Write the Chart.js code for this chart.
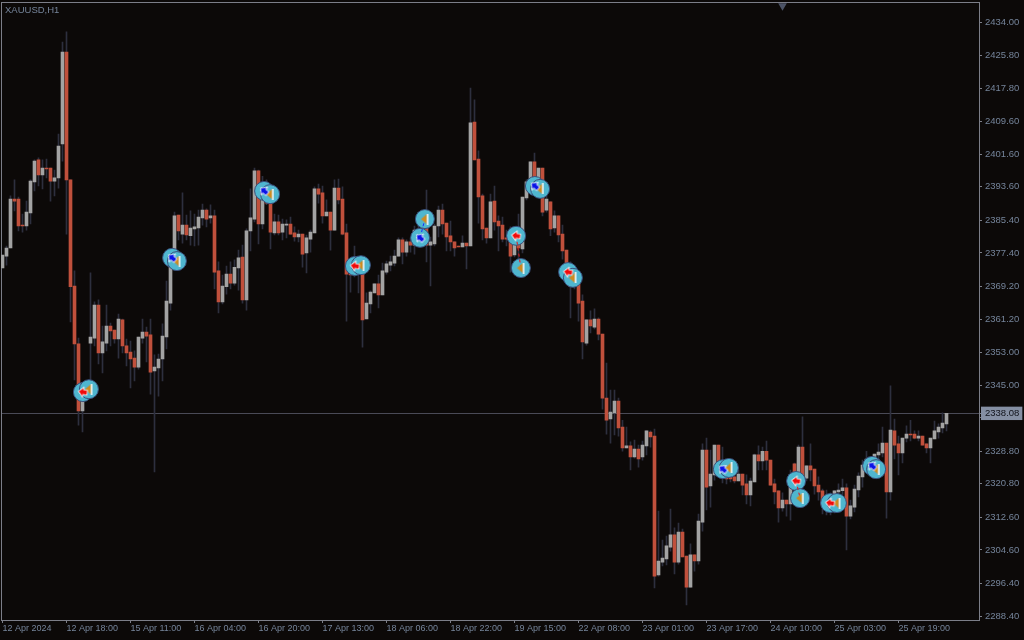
<!DOCTYPE html>
<html>
<head>
<meta charset="utf-8">
<title>XAUUSD,H1</title>
<script src="https://cdn.jsdelivr.net/npm/chart.js@4"></script>
<style>
  html, body { margin: 0; padding: 0; background: #0c0908; }
  canvas { display: block; }
</style>
</head>
<body>
<canvas id="myChart" width="1024" height="640"></canvas>
<script>
// H1 candles, one value per bar
const opens = [
  2373.7,2376.6,2378.6,2390.6,2390.6,2384.2,2384.0,2387.2,2394.8,2400.2,
  2396.5,2398.2,2398.2,2395.0,2395.8,2404.1,2426.6,2395.3,2369.3,2355.1,
  2338.7,2343.3,2355.3,2356.5,2364.6,2352.9,2355.3,2359.5,2358.5,2356.3,
  2361.0,2354.6,2353.1,2351.6,2349.4,2356.5,2358.0,2357.3,2348.5,2349.2,
  2351.4,2356.8,2365.1,2375.2,2386.7,2382.0,2384.2,2381.6,2383.3,2383.5,
  2386.0,2387.9,2386.0,2386.5,2373.0,2365.4,2369.1,2372.2,2370.0,2373.7,
  2376.4,2365.9,2382.8,2385.7,2397.5,2384.5,2391.6,2389.6,2382.3,2385.0,
  2382.5,2384.2,2384.5,2382.3,2381.3,2382.0,2377.4,2380.8,2382.3,2393.1,
  2392.1,2386.5,2387.4,2383.0,2393.3,2390.6,2382.3,2372.2,2372.0,2373.7,
  2372.7,2361.2,2364.9,2367.6,2369.8,2367.1,2372.7,2374.4,2374.9,2376.6,
  2380.6,2377.6,2380.1,2379.3,2383.0,2380.6,2384.2,2379.3,2379.6,2384.0,
  2387.9,2384.7,2381.6,2380.1,2379.1,2378.9,2379.8,2379.1,2409.5,2400.4,
  2391.4,2383.5,2381.1,2390.1,2385.2,2384.2,2381.1,2381.1,2376.9,2380.6,
  2378.4,2390.9,2394.8,2399.7,2393.6,2398.2,2387.9,2389.9,2383.5,2386.5,
  2382.0,2378.1,2372.7,2369.1,2369.8,2365.6,2355.3,2361.0,2359.2,2361.2,
  2357.5,2341.8,2336.7,2338.2,2341.1,2334.7,2329.6,2330.1,2327.4,2329.3,
  2327.4,2330.1,2333.5,2332.5,2298.5,2301.6,2302.4,2305.3,2308.3,2301.6,
  2309.0,2303.1,2295.5,2303.4,2301.9,2311.4,2329.1,2320.3,2323.0,2330.3,
  2326.2,2324.2,2323.0,2322.5,2321.5,2323.2,2320.8,2318.1,2321.3,2327.9,
  2326.4,2328.8,2326.6,2320.8,2319.1,2314.9,2316.8,2315.9,2325.7,2322.5,
  2329.8,2322.2,2325.2,2324.4,2320.5,2319.1,2315.4,2318.1,2315.9,2318.8,
  2319.1,2319.8,2312.9,2315.1,2319.3,2322.5,2324.2,2326.6,2324.9,2327.9,
  2328.4,2330.8,2318.8,2333.8,2330.6,2328.4,2332.0,2333.0,2333.0,2332.0,
  2332.5,2330.6,2329.6,2331.8,2333.5,2334.5,2335.5
];
const highs = [
  2376.9,2379.1,2391.4,2395.3,2391.1,2386.9,2390.1,2395.3,2400.2,2400.7,
  2400.2,2400.4,2398.2,2397.7,2406.5,2429.1,2431.6,2395.3,2373.0,2356.5,
  2345.3,2345.3,2372.5,2365.4,2365.9,2359.5,2364.6,2360.2,2358.5,2362.4,
  2361.2,2356.3,2355.8,2353.4,2356.8,2361.2,2359.2,2361.2,2352.4,2352.6,
  2360.0,2370.5,2378.1,2387.4,2386.7,2392.1,2386.7,2387.7,2386.9,2387.9,
  2389.4,2388.2,2389.2,2387.9,2375.2,2372.0,2374.2,2375.2,2375.7,2378.1,
  2379.3,2383.3,2393.1,2398.2,2397.7,2396.2,2395.3,2390.4,2386.9,2386.7,
  2385.7,2385.5,2386.2,2383.8,2383.0,2382.0,2381.8,2383.0,2393.6,2394.3,
  2393.8,2390.4,2387.4,2395.3,2395.5,2393.6,2384.5,2375.7,2379.1,2375.2,
  2373.2,2367.6,2368.1,2369.8,2372.0,2374.9,2375.4,2376.6,2378.1,2381.1,
  2381.1,2380.6,2381.1,2384.0,2385.5,2386.0,2392.8,2381.3,2384.5,2388.9,
  2389.4,2384.7,2385.2,2380.1,2379.1,2381.6,2379.8,2417.8,2414.9,2402.4,
  2391.8,2383.5,2391.8,2393.8,2386.5,2386.2,2383.0,2383.8,2383.0,2386.9,
  2391.1,2395.3,2399.7,2401.9,2398.2,2398.2,2392.8,2389.9,2387.7,2386.5,
  2384.2,2378.1,2375.2,2373.2,2371.5,2367.1,2361.0,2363.2,2363.7,2361.5,
  2357.5,2350.4,2343.8,2343.8,2341.8,2336.4,2334.7,2331.1,2331.5,2330.3,
  2331.3,2333.8,2333.8,2334.2,2314.1,2307.0,2308.0,2314.6,2310.0,2311.2,
  2309.7,2303.1,2306.1,2303.4,2313.4,2330.6,2332.0,2329.1,2330.3,2330.3,
  2329.8,2325.9,2323.0,2324.2,2324.2,2323.2,2323.0,2322.2,2328.1,2330.1,
  2329.8,2331.3,2326.6,2322.0,2319.1,2318.6,2316.8,2324.2,2325.9,2330.3,
  2337.2,2325.2,2330.6,2324.4,2322.5,2319.5,2319.3,2318.6,2319.1,2320.8,
  2322.0,2320.8,2316.8,2320.5,2323.5,2326.6,2328.8,2327.4,2328.1,2330.6,
  2334.7,2330.8,2344.8,2336.7,2332.5,2332.0,2335.0,2336.4,2333.8,2333.8,
  2332.5,2330.6,2332.0,2336.2,2335.5,2338.2,2338.1
];
const lows = [
  2373.7,2374.4,2378.6,2387.7,2382.8,2382.5,2383.0,2384.5,2392.6,2393.8,
  2393.1,2395.8,2390.1,2391.4,2393.3,2399.9,2382.0,2360.5,2346.3,2335.2,
  2333.5,2341.4,2346.3,2354.6,2350.2,2348.0,2353.4,2354.6,2355.3,2351.6,
  2352.9,2349.7,2344.3,2346.0,2348.9,2355.3,2350.7,2342.8,2323.7,2342.3,
  2346.0,2353.9,2363.4,2373.2,2380.6,2379.8,2380.6,2379.3,2379.1,2379.3,
  2384.2,2383.8,2384.7,2368.6,2362.7,2364.9,2367.3,2368.6,2369.5,2368.3,
  2365.1,2363.4,2377.9,2385.0,2379.6,2383.3,2389.2,2378.4,2381.8,2381.8,
  2380.6,2381.1,2382.0,2380.3,2380.1,2373.9,2372.5,2377.6,2382.3,2389.6,
  2384.7,2386.5,2378.1,2383.0,2389.4,2381.8,2360.7,2367.8,2371.5,2367.6,
  2354.3,2361.2,2362.7,2367.6,2363.9,2367.1,2372.2,2373.0,2374.2,2376.6,
  2374.7,2376.6,2377.6,2377.1,2379.3,2379.3,2375.2,2369.3,2379.1,2381.3,
  2382.0,2377.9,2377.9,2376.6,2378.9,2378.9,2373.5,2379.1,2400.2,2384.7,
  2380.6,2379.8,2381.1,2383.0,2377.9,2380.1,2379.1,2372.7,2376.4,2375.7,
  2377.4,2390.4,2392.8,2392.8,2392.3,2386.5,2387.4,2381.6,2382.5,2380.1,
  2375.9,2370.8,2361.5,2368.6,2360.7,2351.4,2354.8,2357.8,2358.8,2356.1,
  2339.1,2333.0,2330.8,2332.8,2332.5,2328.8,2329.6,2324.2,2327.1,2324.9,
  2326.6,2327.9,2329.8,2295.3,2298.2,2300.7,2300.9,2304.3,2298.7,2301.1,
  2302.9,2291.1,2295.5,2299.4,2301.1,2309.2,2314.4,2315.1,2321.7,2323.0,
  2321.0,2320.8,2321.3,2321.0,2321.5,2318.1,2315.9,2315.4,2321.3,2324.2,
  2324.2,2324.2,2320.5,2315.9,2311.4,2314.1,2312.9,2311.9,2315.6,2321.3,
  2321.7,2321.5,2321.5,2318.3,2316.8,2313.4,2313.2,2313.2,2313.7,2316.8,
  2318.1,2304.6,2312.2,2313.9,2317.6,2320.0,2323.7,2324.2,2324.2,2326.6,
  2327.4,2312.4,2316.8,2326.9,2323.0,2325.9,2331.1,2331.3,2331.8,2331.3,
  2330.3,2328.4,2325.9,2331.8,2332.0,2333.3,2333.8
];
const closes = [
  2376.9,2378.6,2390.6,2390.1,2384.0,2384.0,2387.4,2395.0,2399.9,2396.5,
  2398.2,2398.0,2395.0,2395.8,2403.6,2426.6,2395.3,2369.1,2355.1,2338.7,
  2344.3,2344.5,2356.8,2364.6,2352.9,2355.6,2359.5,2358.3,2356.3,2361.2,
  2354.6,2352.9,2351.4,2349.4,2356.8,2358.0,2357.0,2348.2,2349.4,2351.4,
  2357.0,2365.6,2376.2,2386.5,2382.8,2384.2,2381.8,2383.5,2383.8,2386.2,
  2387.9,2385.7,2386.5,2372.7,2365.4,2369.3,2372.2,2370.0,2373.9,2376.2,
  2365.9,2382.8,2386.0,2397.5,2384.5,2394.0,2389.6,2382.5,2385.0,2382.3,
  2384.5,2384.5,2382.0,2381.3,2382.0,2377.1,2381.1,2382.5,2393.1,2391.8,
  2386.5,2387.4,2383.0,2393.3,2390.4,2382.0,2372.2,2372.0,2373.2,2372.2,
  2361.0,2365.1,2367.8,2369.8,2367.1,2373.0,2374.7,2375.2,2376.6,2380.6,
  2377.6,2380.1,2379.3,2383.0,2380.6,2384.2,2379.3,2380.1,2384.0,2387.9,
  2384.5,2381.3,2380.1,2378.6,2378.9,2379.8,2379.1,2409.3,2400.2,2391.1,
  2383.3,2381.1,2389.9,2385.0,2384.0,2380.8,2380.8,2376.6,2380.6,2378.6,
  2391.1,2394.8,2399.7,2395.3,2398.2,2387.4,2390.6,2383.3,2386.5,2381.8,
  2377.9,2372.5,2369.1,2372.0,2365.1,2355.6,2361.0,2359.5,2361.2,2357.5,
  2341.8,2336.4,2338.4,2341.1,2334.5,2329.6,2330.1,2327.4,2329.3,2326.9,
  2330.3,2333.8,2332.3,2298.2,2301.9,2302.6,2305.6,2308.3,2301.6,2309.0,
  2302.9,2295.5,2303.4,2301.9,2311.7,2329.1,2320.0,2323.2,2330.3,2325.9,
  2323.0,2322.0,2322.0,2321.5,2323.2,2320.5,2318.1,2321.5,2327.9,2326.4,
  2328.8,2326.6,2320.5,2318.8,2314.9,2316.8,2315.9,2323.0,2321.7,2329.8,
  2322.5,2325.2,2324.2,2320.3,2318.8,2315.6,2317.6,2315.6,2319.1,2319.3,
  2319.8,2312.9,2315.4,2319.5,2322.7,2325.4,2326.9,2324.9,2328.1,2328.6,
  2330.8,2318.8,2334.0,2330.3,2328.4,2332.0,2333.0,2332.8,2332.0,2332.5,
  2330.3,2329.6,2332.0,2333.8,2334.7,2335.7,2338.1
];

// trade markers: bar position and price of each entry and exit
const entryBars = [20.1,42.4,65.4,88.1,104.4,128.4,133.1,141.4,180.1,198.4,206.9,217.4];
const entryPrices = [2343.3,2376.2,2392.6,2374.2,2381.1,2381.6,2393.8,2372.7,2324.4,2321.5,2316.1,2325.2];
const exitBars = [21.6,43.6,66.9,89.6,105.6,129.6,134.4,142.6,181.6,199.4,208.6,218.4];
const exitPrices = [2344.0,2375.4,2391.8,2374.4,2385.7,2373.7,2393.1,2371.3,2324.7,2317.3,2316.1,2324.4];
const tradeSides = ["red","blue","blue","red","blue","red","blue","red","blue","red","red","blue"];

const priceTicks = [2434,2425.8,2417.8,2409.6,2401.6,2393.6,2385.4,2377.4,2369.2,2361.2,2353,2345,2337,2328.8,2320.8,2312.6,2304.6,2296.4,2288.4];
const lastPrice = 2338.08;
const dateBars = [0,16,32,48,64,80,96,112,128,144,160,176,192,208,224];
const dateLabels = ["12 Apr 2024","12 Apr 18:00","15 Apr 11:00","16 Apr 04:00","16 Apr 20:00","17 Apr 13:00","18 Apr 06:00","18 Apr 22:00","19 Apr 15:00","22 Apr 08:00","23 Apr 01:00","23 Apr 17:00","24 Apr 10:00","25 Apr 03:00","25 Apr 19:00"];

const UP = "#a3a3a3";
const DOWN = "#c0503c";
const WICK = "#2d2f3e";
const TEXT = "#75849a";
const FRAME = "#7c7e88";
const CYAN = "#4fb6cf";
const FONT_FAMILY = "'Liberation Sans', sans-serif";

// arrow glyph pointing left, white outline
const arrowGlyph = (fill) => {
  const c = document.createElement("canvas");
  c.width = 11;
  c.height = 11;
  const g = c.getContext("2d");
  g.beginPath();
  g.moveTo(1.5, 5.5);
  g.lineTo(5.5, 1.5);
  g.lineTo(5.5, 3.5);
  g.lineTo(9.5, 3.5);
  g.lineTo(9.5, 7.5);
  g.lineTo(5.5, 7.5);
  g.lineTo(5.5, 9.5);
  g.closePath();
  g.strokeStyle = "#ffffff";
  g.lineWidth = 1.6;
  g.stroke();
  g.fillStyle = fill;
  g.fill();
  return c;
};

// orange exit triangle with a white right edge
const exitGlyph = () => {
  const c = document.createElement("canvas");
  c.width = 9;
  c.height = 11;
  const g = c.getContext("2d");
  g.beginPath();
  g.moveTo(0.5, 5.5);
  g.lineTo(6.5, 0.5);
  g.lineTo(6.5, 10.5);
  g.closePath();
  g.fillStyle = "#d08a1e";
  g.fill();
  g.fillStyle = "#ffffff";
  g.fillRect(6.5, 0, 1.5, 11);
  return c;
};

const toPoints = (xs, ys) => xs.map((x, i) => ({ x: x, y: ys[i] }));

const tradeLines = tradeSides.map((side, i) => ({
  type: "line",
  data: [
    { x: entryBars[i], y: entryPrices[i] },
    { x: exitBars[i], y: exitPrices[i] },
  ],
  borderColor: side === "blue" ? "#1a2cff" : "#f01010",
  borderWidth: 1,
  borderDash: [3, 3],
  pointRadius: 0,
  order: 2,
}));

const markerCircle = (points) => ({
  type: "scatter",
  data: points,
  pointRadius: 9.5,
  pointBackgroundColor: CYAN,
  pointBorderColor: "#3a4f7c",
  pointBorderWidth: 1,
  order: 3,
});

const frame = {
  id: "frame",
  beforeDatasetsDraw(chart) {
    const { ctx, chartArea: a } = chart;
    ctx.save();
    ctx.strokeStyle = FRAME;
    ctx.lineWidth = 1;
    ctx.strokeRect(Math.floor(a.left) + 0.5, Math.floor(a.top) + 0.5, Math.round(a.width), Math.round(a.height));
    ctx.restore();
  },
  afterDraw(chart) {
    const { ctx } = chart;
    ctx.save();
    ctx.fillStyle = TEXT;
    ctx.font = "9.5px " + FONT_FAMILY;
    ctx.textBaseline = "middle";
    ctx.fillText("XAUUSD,H1", 5, 10);
    ctx.restore();
  },
};

new Chart(document.getElementById("myChart"), {
  type: "bar",
  data: {
    datasets: [
      ...tradeLines,
      {
        type: "scatter",
        data: toPoints(entryBars, entryPrices),
        pointStyle: tradeSides.map((s) => arrowGlyph(s === "blue" ? "#0a14e6" : "#f00a0a")),
        pointRotation: tradeSides.map((s) => (s === "blue" ? 40 : 10)),
        order: 1,
      },
      {
        type: "scatter",
        data: toPoints(exitBars, exitPrices),
        pointStyle: exitGlyph(),
        order: 1,
      },
      markerCircle(toPoints(exitBars, exitPrices)),
      markerCircle(toPoints(entryBars, entryPrices)),
      {
        // body
        data: opens.map((o, i) => ({ x: i, y: [o, closes[i]] })),
        backgroundColor: opens.map((o, i) => (closes[i] >= o ? UP : DOWN)),
        barThickness: 3,
        grouped: false,
        order: 4,
      },
      {
        // wick
        data: lows.map((l, i) => ({ x: i, y: [l, highs[i]] })),
        backgroundColor: WICK,
        barThickness: 1,
        grouped: false,
        order: 5,
      },
      {
        // chart shift mark on the top edge
        type: "scatter",
        data: [{ x: 195, y: 2438.0 }],
        pointStyle: "triangle",
        rotation: 180,
        pointRadius: 5,
        pointBackgroundColor: "#4c5366",
        pointBorderWidth: 0,
        order: 6,
      },
    ],
  },
  options: {
    responsive: false,
    devicePixelRatio: 1,
    animation: false,
    events: [],
    layout: { autoPadding: false, padding: { left: 1, top: 2.5, right: 0, bottom: 0 } },
    plugins: { legend: { display: false }, tooltip: { enabled: false }, title: { display: false } },
    scales: {
      x: {
        type: "linear",
        offset: false,
        min: -0.375,
        max: 244.125,
        position: "bottom",
        border: { display: false },
        grid: { offset: false, drawOnChartArea: false, tickLength: 3, tickColor: FRAME },
        ticks: {
          autoSkip: false,
          maxRotation: 0,
          align: "start",
          padding: 0,
          color: TEXT,
          font: { family: FONT_FAMILY, size: 9 },
          callback: (value, index) => dateLabels[index],
        },
        afterBuildTicks: (scale) => {
          scale.ticks = dateBars.map((b) => ({ value: b }));
        },
        afterFit: (scale) => {
          scale.height = 20;
          scale.paddingLeft = 0;
          scale.paddingRight = 0;
        },
      },
      y: {
        type: "linear",
        position: "right",
        min: 2287.43,
        max: 2438.78,
        border: { display: false },
        grid: {
          color: (c) => (c.tick && c.tick.value === lastPrice ? "#4a4a56" : "transparent"),
          tickColor: FRAME,
          tickLength: 3,
        },
        ticks: {
          autoSkip: false,
          crossAlign: "near",
          padding: 3,
          font: { family: FONT_FAMILY, size: 9.5 },
          color: (c) => (c.tick && c.tick.value === lastPrice ? "#10121a" : TEXT),
          showLabelBackdrop: (c) => !!c.tick && c.tick.value === lastPrice,
          backdropColor: "#858fa3",
          backdropPadding: { left: 4, right: 3, top: 1, bottom: 1 },
          callback: (value) => value.toFixed(2),
        },
        afterBuildTicks: (scale) => {
          scale.ticks = [...priceTicks, lastPrice].map((v) => ({ value: v }));
        },
        afterFit: (scale) => {
          scale.width = 45;
          scale.paddingTop = 0;
          scale.paddingBottom = 0;
        },
      },
    },
  },
  plugins: [frame],
});
</script>
</body>
</html>
